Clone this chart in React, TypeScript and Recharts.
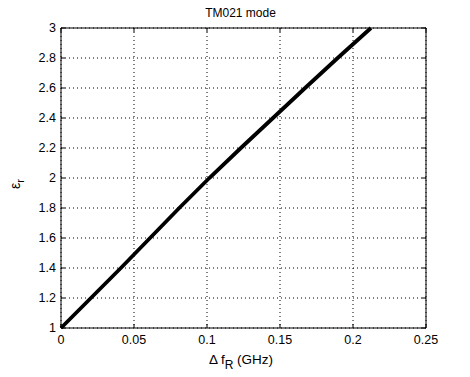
import { CartesianGrid, Label, Line, LineChart, ReferenceLine, XAxis, YAxis } from "recharts";

// frequency shift (GHz) vs relative permittivity
const deltaF = [0, 0.0205, 0.041, 0.061, 0.081, 0.1016, 0.1232, 0.1452, 0.1672, 0.1895, 0.2123];
const epsR = [1, 1.2, 1.4, 1.6, 1.8, 2, 2.2, 2.4, 2.6, 2.8, 3];

const xTicks = [0, 0.05, 0.1, 0.15, 0.2, 0.25];
const yTicks = [1, 1.2, 1.4, 1.6, 1.8, 2, 2.2, 2.4, 2.6, 2.8, 3];

const data = deltaF.map((x, i) => ({ x, eps: epsR[i] }));

const FONT = "'Liberation Sans', Arial, Helvetica, sans-serif";
const PLOT = { left: 61, right: 426, top: 28, bottom: 328 };
const TICK_LEN = 4;

function XTick({ x, payload }: any) {
  return (
    <g>
      <line x1={x} x2={x} y1={PLOT.bottom} y2={PLOT.bottom - TICK_LEN} stroke="#000" />
      <line x1={x} x2={x} y1={PLOT.top} y2={PLOT.top + TICK_LEN} stroke="#000" />
      <text x={x} y={344} textAnchor="middle" fontSize={12.5} fontFamily={FONT} fill="#000">
        {payload.value}
      </text>
    </g>
  );
}

function YTick({ y, payload }: any) {
  return (
    <g>
      <line x1={PLOT.left} x2={PLOT.left + TICK_LEN} y1={y} y2={y} stroke="#000" />
      <line x1={PLOT.right} x2={PLOT.right - TICK_LEN} y1={y} y2={y} stroke="#000" />
      <text x={56} y={y + 4} textAnchor="end" fontSize={12.5} fontFamily={FONT} fill="#000">
        {payload.value}
      </text>
    </g>
  );
}

export default function App() {
  return (
    <div style={{ position: "absolute", left: 0, top: 0, width: 470, height: 377, background: "#fff" }}>
      <div
        style={{
          position: "absolute",
          top: 6,
          left: 0,
          width: 481,
          textAlign: "center",
          fontFamily: FONT,
          fontSize: 12,
          color: "#000",
        }}
      >
        TM021 mode
      </div>
      <LineChart
        width={470}
        height={377}
        data={data}
        margin={{ top: PLOT.top, right: 470 - PLOT.right, bottom: 0, left: 0 }}
      >
        <CartesianGrid stroke="#000" strokeDasharray="1 3" strokeWidth={1} />
        <XAxis
          type="number"
          dataKey="x"
          domain={[0, 0.25]}
          ticks={xTicks}
          interval={0}
          height={377 - PLOT.bottom}
          tickLine={false}
          axisLine={{ stroke: "#000" }}
          tick={<XTick />}
        >
          <Label
            content={() => (
              <text x={241} y={364} textAnchor="middle" fontSize={13.5} fontFamily={FONT} fill="#000">
                Δ f
                <tspan fontSize={12} dy={5}>R</tspan>
                <tspan dy={-5}> (GHz)</tspan>
              </text>
            )}
          />
        </XAxis>
        <YAxis
          type="number"
          domain={[1, 3]}
          ticks={yTicks}
          interval={0}
          width={PLOT.left}
          tickLine={false}
          axisLine={{ stroke: "#000" }}
          tick={<YTick />}
        >
          <Label
            content={() => (
              <text
                x={20}
                y={184}
                transform="rotate(-90 20 184)"
                textAnchor="middle"
                fontSize={14}
                fontFamily={FONT}
                fill="#000"
              >
                ε
                <tspan fontSize={11} dy={4}>r</tspan>
              </text>
            )}
          />
        </YAxis>
        <ReferenceLine y={3} stroke="#000" strokeWidth={1} />
        <ReferenceLine x={0.25} stroke="#000" strokeWidth={1} />
        <Line
          type="linear"
          dataKey="eps"
          stroke="#000"
          strokeWidth={3.8}
          dot={false}
          isAnimationActive={false}
        />
      </LineChart>
    </div>
  );
}
